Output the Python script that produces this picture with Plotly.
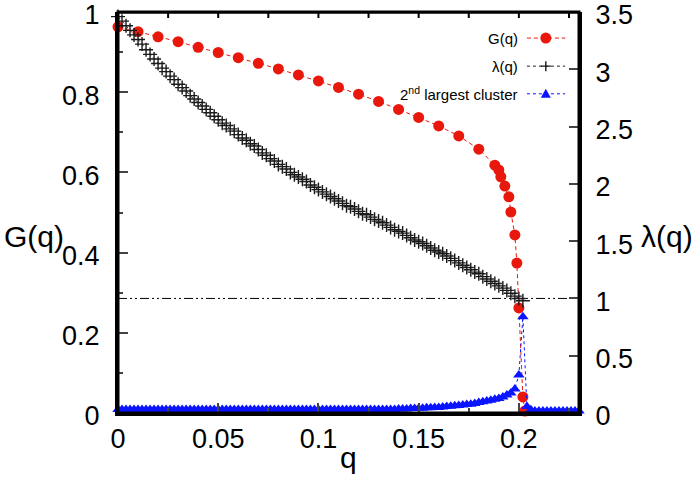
import plotly.graph_objects as go

# ---- data ----
q_G = [0, 0.01, 0.02, 0.03, 0.04, 0.05, 0.06, 0.07, 0.08, 0.09, 0.10, 0.11, 0.12, 0.13,
       0.14, 0.15, 0.16, 0.17, 0.18, 0.188, 0.19, 0.191, 0.193, 0.195, 0.196, 0.198,
       0.199, 0.2, 0.202, 0.203]
G_vals = [0.963, 0.951, 0.938, 0.926, 0.912, 0.899, 0.886, 0.872, 0.858, 0.843, 0.828,
          0.812, 0.795, 0.777, 0.757, 0.737, 0.716, 0.691, 0.658, 0.618, 0.606, 0.589,
          0.566, 0.539, 0.501, 0.444, 0.374, 0.262, 0.04, 0.005]

q_lam = [i * 0.002 for i in range(102)]
lam_vals = [3.46, 3.42, 3.38, 3.34, 3.30, 3.26, 3.22, 3.17, 3.13, 3.09,
            3.05, 3.01, 2.98, 2.94, 2.91, 2.87, 2.84, 2.81, 2.77, 2.74,
            2.71, 2.68, 2.65, 2.62, 2.59, 2.56, 2.53, 2.51, 2.48, 2.46,
            2.43, 2.40, 2.38, 2.35, 2.33, 2.30, 2.27, 2.25, 2.22, 2.20,
            2.17, 2.15, 2.13, 2.10, 2.08, 2.06, 2.04, 2.02, 1.99, 1.97,
            1.95, 1.93, 1.91, 1.89, 1.87, 1.85, 1.83, 1.81, 1.80, 1.78,
            1.76, 1.74, 1.73, 1.71, 1.69, 1.675, 1.66, 1.64, 1.62, 1.60,
            1.585, 1.57, 1.55, 1.53, 1.51, 1.495, 1.48, 1.46, 1.44, 1.42,
            1.405, 1.39, 1.37, 1.35, 1.33, 1.31, 1.29, 1.27, 1.25, 1.23,
            1.215, 1.19, 1.17, 1.15, 1.13, 1.11, 1.09, 1.07, 1.045, 1.02,
            1.00, 0.98]

q_c2 = [i * 0.002 for i in range(116)]
c2_vals = ([0.009] * 70 +                      # q = 0 .. 0.138
           [0.010, 0.010, 0.010, 0.011, 0.011, 0.012, 0.012, 0.013, 0.013, 0.014,  # 0.14..0.158
            0.014, 0.015, 0.016, 0.017, 0.018, 0.019, 0.020, 0.021, 0.022, 0.024,  # 0.16..0.178
            0.026, 0.028, 0.030, 0.032, 0.034, 0.036, 0.040, 0.045, 0.050, 0.060,  # 0.18..0.198
            0.095, 0.24, 0.016, 0.008, 0.005, 0.005, 0.005, 0.005, 0.005, 0.005,   # 0.20..0.218
            0.005, 0.005, 0.005, 0.005, 0.005, 0.005])                              # 0.22..0.23
q_ref = [0, 0.23]
lam_threshold = [1, 1]
frame_top = [1, 1]      # top border of the frame, in G units

x_ticks = [0, 0.05, 0.1, 0.15, 0.2]
x_ticktext = ["0", "0.05", "0.1", "0.15", "0.2"]
x_top_ticks = [0.025, 0.05, 0.075, 0.1, 0.125, 0.15, 0.175, 0.2, 0.225]
y_ticks = [0, 0.2, 0.4, 0.6, 0.8, 1]
y_ticktext = ["0", "0.2", "0.4", "0.6", "0.8", "1"]
y2_ticks = [0, 0.5, 1, 1.5, 2, 2.5, 3, 3.5]
y2_ticktext = ["0", "0.5", "1", "1.5", "2", "2.5", "3", "3.5"]

RED = "#e8190c"
BLUE = "#0a14ff"
FONT = "Liberation Sans"

fig = go.Figure()

fig.add_trace(go.Scatter(x=q_ref, y=frame_top, mode="lines",
                         line=dict(color="black", width=3),
                         showlegend=False, cliponaxis=False, hoverinfo="skip"))
fig.add_trace(go.Scatter(x=q_ref, y=lam_threshold, yaxis="y2", mode="lines",
                         line=dict(color="black", width=1, dash="9px,3px,2px,3px,2px,3px"),
                         showlegend=False, cliponaxis=False))
fig.add_trace(go.Scatter(x=q_lam, y=lam_vals, yaxis="y2", mode="lines+markers",
                         line=dict(color="#222", width=1, dash="dot"),
                         marker=dict(symbol="cross-thin", size=10, line=dict(color="#1a1a1a", width=1.4)),
                         showlegend=False, cliponaxis=False))
fig.add_trace(go.Scatter(x=q_G, y=G_vals, mode="lines+markers",
                         line=dict(color=RED, width=1, dash="4px,3px"),
                         marker=dict(symbol="circle", size=11, color=RED),
                         showlegend=False, cliponaxis=False))
fig.add_trace(go.Scatter(x=q_c2, y=c2_vals, mode="lines+markers",
                         line=dict(color=BLUE, width=1, dash="dot"),
                         marker=dict(symbol="triangle-up", size=10, color=BLUE),
                         showlegend=False, cliponaxis=False))

axis_common = dict(ticks="inside", tickwidth=2, linewidth=3, linecolor="black",
                   showline=True, showgrid=False, zeroline=False, automargin=False,
                   ticklabeloverflow="allow",
                   tickfont=dict(family=FONT, size=27, color="black"))

fig.update_layout(
    width=700, height=485,
    margin=dict(l=118, r=121, t=12, b=72, autoexpand=False),
    paper_bgcolor="white", plot_bgcolor="white",
    showlegend=False,
    xaxis=dict(range=[0, 0.23], tickvals=x_ticks, ticktext=x_ticktext, ticklen=10,
               minor=dict(ticks="inside", dtick=0.025, tick0=0, ticklen=5, tickwidth=2),
               **axis_common),
    yaxis=dict(range=[0, 1], tickvals=y_ticks, ticktext=y_ticktext, ticklen=10,
               ticklabelstandoff=10, ticklabelshift=3,
               minor=dict(ticks="inside", dtick=0.1, tick0=0, ticklen=5, tickwidth=2),
               **axis_common),
    yaxis2=dict(range=[0, 3.5], tickvals=y2_ticks, ticktext=y2_ticktext, ticklen=10,
                ticklabelstandoff=8, ticklabelshift=3,
                overlaying="y", side="right", **axis_common),
)

# plot frame and top tick marks
fig.add_shape(type="rect", xref="paper", yref="paper", x0=0, x1=1, y0=0, y1=1,
              line=dict(color="black", width=3), layer="above")
for tx in x_top_ticks:
    fig.add_shape(type="line", xref="x", yref="paper", x0=tx, x1=tx, y0=1, y1=0.985,
                  line=dict(color="black", width=2), layer="above")

# axis titles
fig.add_annotation(text="G(q)", xref="paper", yref="paper", x=-0.183, y=0.44,
                   showarrow=False, font=dict(family=FONT, size=30, color="black"),
                   xanchor="center", yanchor="middle")
fig.add_annotation(text="λ(q)", xref="paper", yref="paper", x=1.19, y=0.44,
                   showarrow=False, font=dict(family=FONT, size=30, color="black"),
                   xanchor="center", yanchor="middle")
fig.add_annotation(text="q", xref="paper", yref="paper", x=0.5, y=-0.065,
                   showarrow=False, font=dict(family=FONT, size=30, color="black"),
                   xanchor="center", yanchor="top")

# manual gnuplot-style legend (text left, sample right)
leg_rows = [
    ("G(q)", 0.935, RED, "4px,3px", "circle"),
    ("λ(q)", 0.865, "#222", "dot", "cross"),
    ("2<sup>nd</sup> largest cluster", 0.796, BLUE, "dot", "triangle"),
]
for label, yy, col, dash, sym in leg_rows:
    fig.add_annotation(text=label, xref="paper", yref="paper", x=0.872, y=yy,
                       showarrow=False, xanchor="right", yanchor="middle",
                       font=dict(family=FONT, size=15, color="black"))
    fig.add_shape(type="line", xref="paper", yref="paper", x0=0.887, x1=0.970, y0=yy, y1=yy,
                  line=dict(color=col, width=1, dash=dash))
    if sym == "circle":
        fig.add_shape(type="circle", xref="paper", yref="paper", xsizemode="pixel", ysizemode="pixel",
                      xanchor=0.928, yanchor=yy, x0=-5.5, x1=5.5, y0=-5.5, y1=5.5,
                      fillcolor=col, line=dict(width=0))
    elif sym == "cross":
        fig.add_shape(type="path", xref="paper", yref="paper", xsizemode="pixel", ysizemode="pixel",
                      xanchor=0.928, yanchor=yy, path="M-5,0 L5,0 M0,-5 L0,5",
                      line=dict(color="#1a1a1a", width=1.4))
    else:
        fig.add_shape(type="path", xref="paper", yref="paper", xsizemode="pixel", ysizemode="pixel",
                      xanchor=0.928, yanchor=yy, path="M-5,-4 L5,-4 L0,5 Z",
                      fillcolor=col, line=dict(width=0))

fig.write_html("out.html", config={"displayModeBar": False},
               post_script="document.body.style.margin='0';")
